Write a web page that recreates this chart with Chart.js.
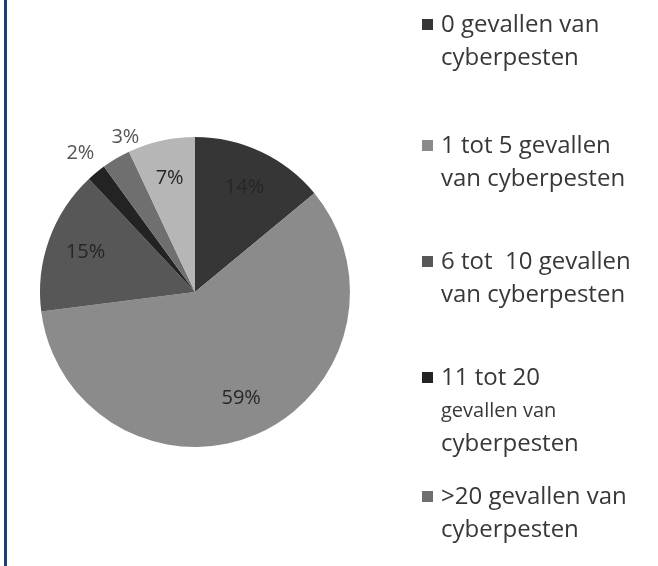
<!DOCTYPE html>
<html>
<head>
<meta charset="utf-8">
<script src="https://cdn.jsdelivr.net/npm/chart.js@4/dist/chart.umd.min.js"></script>
<style>
  html, body { margin: 0; padding: 0; background: #fff; }
  #wrap { position: relative; width: 658px; height: 566px; }
  #wrap:before { content: ""; position: absolute; left: 4px; top: 0; bottom: 0; width: 3px; background: #1c3f74; }
</style>
</head>
<body>
<div id="wrap"><canvas id="pie" width="658" height="566"></canvas></div>
<script>
const categories = [
  ["0 gevallen van", "cyberpesten"],
  ["1 tot 5 gevallen", "van cyberpesten"],
  ["6 tot  10 gevallen", "van cyberpesten"],
  ["11 tot 20", "gevallen van", "cyberpesten"],
  [">20 gevallen van", "cyberpesten"],
  ["onbekend"]
];
const percentages = [14, 59, 15, 2, 3, 7];
const sliceColors = ["#363636", "#8b8b8b", "#575757", "#232323", "#6f6f6f", "#b6b6b6"];
const legendCount = 5;

// percentage labels: inside the slice, small slices outside
const pieLabels = {
  id: "pieLabels",
  afterDatasetsDraw(chart) {
    const ctx = chart.ctx;
    const meta = chart.getDatasetMeta(0);
    let lastX = null;
    ctx.save();
    ctx.font = "20px 'Open Sans'";
    ctx.textAlign = "center";
    ctx.textBaseline = "middle";
    meta.data.forEach((arc, i) => {
      const v = chart.data.datasets[0].data[i];
      const mid = (arc.startAngle + arc.endAngle) / 2;
      const outside = v < 5;
      const r = outside ? arc.outerRadius * 1.16 : arc.outerRadius * 0.75;
      let x = arc.x + Math.cos(mid) * r;
      const y = arc.y + Math.sin(mid) * r;
      if (outside) {
        // keep neighbouring outside labels apart
        if (lastX !== null && x - lastX < 45) x = lastX + 45;
        lastX = x;
      }
      ctx.fillStyle = outside ? "#555" : "#262626";
      ctx.fillText(v + "%", x, y);
    });
    ctx.restore();
  }
};

// legend on the right, multi-line entries
const sideLegend = {
  id: "sideLegend",
  afterDraw(chart) {
    const ctx = chart.ctx;
    const colors = chart.data.datasets[0].backgroundColor;
    const tops = [25, 146, 262, 378, 497];
    ctx.save();
    ctx.textBaseline = "middle";
    ctx.textAlign = "left";
    chart.data.labels.slice(0, legendCount).forEach((lines, i) => {
      const y0 = tops[i];
      ctx.fillStyle = colors[i];
      ctx.fillRect(422, y0 - 6, 11, 11);
      ctx.fillStyle = "#383838";
      lines.forEach((t, k) => {
        ctx.font = (i === 3 && k === 1) ? "20px 'Open Sans'" : "24px 'Open Sans'";
        ctx.fillText(t, 441, y0 + k * 33);
      });
    });
    ctx.restore();
  }
};

new Chart(document.getElementById("pie"), {
  type: "pie",
  data: {
    labels: categories,
    datasets: [{
      data: percentages,
      backgroundColor: sliceColors,
      borderWidth: 0
    }]
  },
  options: {
    responsive: false,
    animation: false,
    layout: { padding: { left: 40, right: 308, top: 137, bottom: 119 } },
    plugins: {
      legend: { display: false },
      tooltip: { enabled: false }
    }
  },
  plugins: [pieLabels, sideLegend]
});
</script>
</body>
</html>
